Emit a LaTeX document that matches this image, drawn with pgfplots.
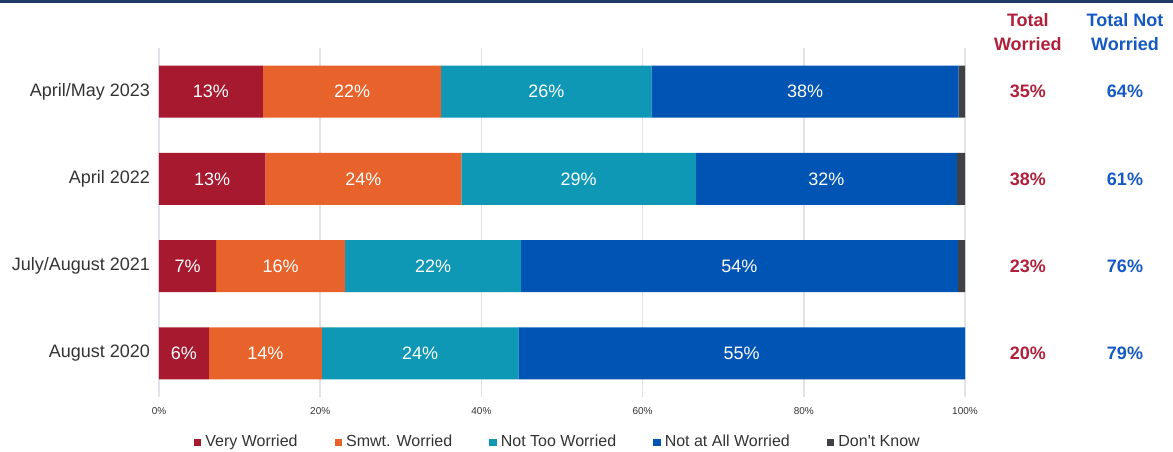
\documentclass[border=0pt]{standalone}
\usepackage{pgfplots}
\usepackage{pgfplotstable}
\pgfplotsset{compat=1.18}
\usepackage{fontspec}
\setmainfont{Liberation Sans}[Ligatures=TeXOff]
\definecolor{cVery}{HTML}{A6192E}
\definecolor{cSmwt}{HTML}{E8632B}
\definecolor{cNotToo}{HTML}{0E98B5}
\definecolor{cNotAll}{HTML}{0054B4}
\definecolor{cDK}{HTML}{3F4146}
\definecolor{cTW}{HTML}{B0203A}
\definecolor{cTNW}{HTML}{1559C4}
\definecolor{cgrid}{HTML}{E2E2EA}
\definecolor{ctop}{HTML}{1F3A68}
\definecolor{ctext}{HTML}{333333}

\pgfplotstableread{
r v
0 12.9
1 13.2
2 7.1
3 6.2
}\tVery
\pgfplotstableread{
r v
0 22.1
1 24.3
2 16.0
3 14.0
}\tSmwt
\pgfplotstableread{
r v
0 26.1
1 29.1
2 21.8
3 24.4
}\tNotToo
\pgfplotstableread{
r v
0 38.1
1 32.4
2 54.2
3 55.4
}\tNotAll
\pgfplotstableread{
r v
0 0.8
1 1.0
2 0.9
3 0.0
}\tDK

\tikzset{tw/.style={font=\fontsize{9}{10}\selectfont\bfseries, text=cTW},
         tn/.style={font=\fontsize{9}{10}\selectfont\bfseries, text=cTNW}}

\begin{document}
\begin{tikzpicture}
\path[use as bounding box] (-79.5pt,-27pt) rectangle (507pt,198.5pt);
\fill[ctop] (-79.5pt,197pt) rectangle (507pt,198.5pt);
\begin{axis}[
  at={(0pt,0pt)}, anchor=south west,
  scale only axis, width=403pt, height=174.5pt,
  xbar stacked, bar width=26pt,
  xmin=0, xmax=100, ymin=-0.5, ymax=3.5, y dir=reverse,
  clip=false,
  /pgf/number format/assume math mode=true,
  ytick={0,1,2,3},
  yticklabels={April/May 2023, April 2022, July/August 2021, August 2020},
  xtick={0,20,40,60,80,100},
  xticklabels={0\%,20\%,40\%,60\%,80\%,100\%},
  axis line style={draw=none},
  major tick length=0pt,
  xmajorgrids, grid style={cgrid, line width=0.8pt},
  yticklabel style={font=\fontsize{9}{10}\selectfont, text=ctext, xshift=-1pt},
  xticklabel style={font=\fontsize{5}{6}\selectfont, text=ctext, yshift=-1.5pt},
  legend style={at={(0.496,-0.13)}, anchor=center, draw=none, fill=none,
    legend columns=5, font=\fontsize{8}{9}\selectfont, text=ctext,
    /tikz/every even column/.append style={column sep=16.5pt}},
  legend image code/.code={\fill[#1] (0pt,-1.9pt) rectangle (3.8pt,1.9pt);},
  visualization depends on={\thisrow{v} \as \segval},
  every node near coord/.append style={anchor=center, text=white,
    font=\fontsize{9}{10}\selectfont},
]
\addplot[fill=cVery, draw=none, nodes near coords={\pgfmathprintnumber[fixed,precision=0]{\segval}\%}] table[x=v,y=r] {\tVery};
\addlegendentry{Very Worried}
\addplot[fill=cSmwt, draw=none, nodes near coords={\pgfmathprintnumber[fixed,precision=0]{\segval}\%}] table[x=v,y=r] {\tSmwt};
\addlegendentry{Smwt. Worried}
\addplot[fill=cNotToo, draw=none, nodes near coords={\pgfmathprintnumber[fixed,precision=0]{\segval}\%}] table[x=v,y=r] {\tNotToo};
\addlegendentry{Not Too Worried}
\addplot[fill=cNotAll, draw=none, nodes near coords={\pgfmathprintnumber[fixed,precision=0]{\segval}\%}] table[x=v,y=r] {\tNotAll};
\addlegendentry{Not at All Worried}
\addplot[fill=cDK, draw=none] table[x=v,y=r] {\tDK};
\addlegendentry{Don't Know}

\node[font=\fontsize{9}{12}\selectfont\bfseries, text=cTW, align=center, anchor=center]
  at (axis cs:107.8,-0.5) [yshift=8pt] {Total\\Worried};
\node[font=\fontsize{9}{12}\selectfont\bfseries, text=cTNW, align=center, anchor=center]
  at (axis cs:119.85,-0.5) [yshift=8pt] {Total Not\\Worried};
\node[tw] at (axis cs:107.8,0) {35\%};
\node[tn] at (axis cs:119.85,0) {64\%};
\node[tw] at (axis cs:107.8,1) {38\%};
\node[tn] at (axis cs:119.85,1) {61\%};
\node[tw] at (axis cs:107.8,2) {23\%};
\node[tn] at (axis cs:119.85,2) {76\%};
\node[tw] at (axis cs:107.8,3) {20\%};
\node[tn] at (axis cs:119.85,3) {79\%};
\end{axis}
\end{tikzpicture}
\end{document}
